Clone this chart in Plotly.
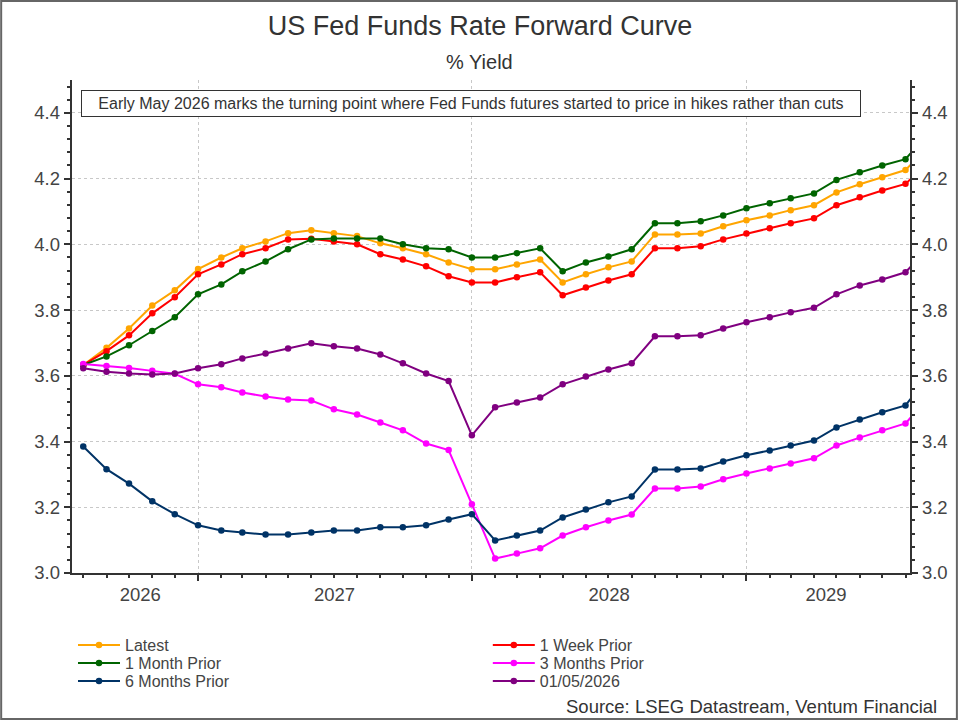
import pandas as pd
import plotly.graph_objects as go

# Monthly forward-curve points (first of each month)
MONTHS = [
    "2026-08", "2026-09", "2026-10", "2026-11", "2026-12",
    "2027-01", "2027-02", "2027-03", "2027-04", "2027-05", "2027-06",
    "2027-07", "2027-08", "2027-09", "2027-10", "2027-11", "2027-12",
    "2028-01", "2028-02", "2028-03", "2028-04", "2028-05", "2028-06",
    "2028-07", "2028-08", "2028-09", "2028-10", "2028-11", "2028-12",
    "2029-01", "2029-02", "2029-03", "2029-04", "2029-05", "2029-06",
    "2029-07", "2029-08", "2029-09",
]

LATEST = [
    3.633, 3.685, 3.744, 3.814, 3.860,
    3.925, 3.960, 3.988, 4.009, 4.034, 4.043, 4.034, 4.025, 4.003, 3.988, 3.970, 3.945,
    3.924, 3.924, 3.939, 3.954, 3.884, 3.909, 3.930, 3.948, 4.030, 4.030, 4.033, 4.055,
    4.073, 4.088, 4.104, 4.119, 4.158, 4.183, 4.204, 4.226, 4.300,
]
WEEK_PRIOR = [
    3.633, 3.675, 3.723, 3.790, 3.839,
    3.909, 3.939, 3.970, 3.988, 4.015, 4.017, 4.009, 4.000, 3.970, 3.954, 3.933, 3.903,
    3.884, 3.884, 3.900, 3.915, 3.845, 3.869, 3.890, 3.909, 3.988, 3.988, 3.994, 4.015,
    4.033, 4.049, 4.064, 4.079, 4.119, 4.143, 4.164, 4.184, 4.250,
]
MONTH_PRIOR = [
    3.633, 3.659, 3.693, 3.736, 3.778,
    3.848, 3.878, 3.918, 3.948, 3.985, 4.015, 4.018, 4.018, 4.018, 4.000, 3.988, 3.985,
    3.960, 3.960, 3.973, 3.988, 3.918, 3.945, 3.963, 3.985, 4.064, 4.064, 4.070, 4.088,
    4.110, 4.125, 4.140, 4.155, 4.196, 4.219, 4.240, 4.259, 4.340,
]
THREE_MONTHS_PRIOR = [
    3.636, 3.630, 3.624, 3.615, 3.606,
    3.574, 3.565, 3.549, 3.537, 3.528, 3.525, 3.498, 3.482, 3.458, 3.434, 3.394, 3.374,
    3.209, 3.044, 3.059, 3.075, 3.114, 3.139, 3.160, 3.178, 3.257, 3.257, 3.263, 3.285,
    3.303, 3.318, 3.333, 3.349, 3.388, 3.412, 3.434, 3.455, 3.535,
]
SIX_MONTHS_PRIOR = [
    3.385, 3.316, 3.272, 3.218, 3.179,
    3.145, 3.129, 3.123, 3.117, 3.117, 3.123, 3.129, 3.129, 3.139, 3.139, 3.145, 3.163,
    3.179, 3.099, 3.114, 3.129, 3.169, 3.193, 3.215, 3.233, 3.315, 3.315, 3.318, 3.339,
    3.358, 3.373, 3.388, 3.403, 3.443, 3.467, 3.489, 3.510, 3.600,
]
MAY_01_2026 = [
    3.623, 3.612, 3.607, 3.604, 3.607,
    3.623, 3.635, 3.653, 3.668, 3.683, 3.699, 3.690, 3.683, 3.665, 3.638, 3.607, 3.584,
    3.419, 3.504, 3.519, 3.534, 3.574, 3.598, 3.619, 3.638, 3.720, 3.720, 3.723, 3.744,
    3.763, 3.778, 3.793, 3.807, 3.848, 3.875, 3.893, 3.915, 3.990,
]

SERIES_NAMES = ["Latest", "1 Week Prior", "1 Month Prior",
                "3 Months Prior", "6 Months Prior", "01/05/2026"]
SERIES_VALUES = [LATEST, WEEK_PRIOR, MONTH_PRIOR,
                 THREE_MONTHS_PRIOR, SIX_MONTHS_PRIOR, MAY_01_2026]
COLORS = ["#FFA500", "#FF0000", "#006400", "#FF00FF", "#003366", "#800080"]
# legend row for each series (two per row)
LEGEND_ROW = ["legend", "legend", "legend2", "legend2", "legend3", "legend3"]

YEARS = ["2026", "2027", "2028", "2029"]

TITLE = "US Fed Funds Rate Forward Curve"
SUBTITLE = "% Yield"
NOTE = ("Early May 2026 marks the turning point where Fed Funds futures "
        "started to price in hikes rather than cuts")
SOURCE = "Source: LSEG Datastream, Ventum Financial"

FONT = "Arial, Liberation Sans, sans-serif"
X_RANGE = ["2026-07-17", "2029-08-07"]
Y_RANGE = [3.0, 4.5]

# plot area in px (for placing paper-referenced text)
W, H = 960, 720
ML, MR, MT, MB = 72, 48, 80, 147
PW, PH = W - ML - MR, H - MT - MB


def px_x(px):
    return (px - ML) / PW


def px_y(py):
    return (H - MB - py) / PH


# year labels centred on the visible span of each year
dates = pd.to_datetime(MONTHS)
last_vis = dates[dates <= pd.Timestamp(X_RANGE[1])].max()
year_pos = []
for y in YEARS:
    lo = max(pd.Timestamp(f"{y}-01-01"), dates[0])
    hi = min(pd.Timestamp(f"{int(y) + 1}-01-01"), last_vis)
    year_pos.append((lo + (hi - lo) / 2).strftime("%Y-%m-%d"))

fig = go.Figure()

for name, vals, color, lg in zip(SERIES_NAMES, SERIES_VALUES, COLORS, LEGEND_ROW):
    fig.add_trace(go.Scatter(
        x=dates, y=vals,
        mode="lines+markers",
        name=name, legend=lg,
        line=dict(color=color, width=2),
        marker=dict(color=color, size=6.5),
    ))

# invisible copy so the overlay axes (year labels, right scale) get drawn
fig.add_trace(go.Scatter(
    x=dates, y=LATEST, xaxis="x2", yaxis="y2",
    mode="lines", opacity=0, showlegend=False, hoverinfo="skip",
))

axis_col = "#333333"
grid = dict(showgrid=True, gridcolor="#c8c8c8", gridwidth=1, griddash="3px,3px")
yticks = dict(
    range=Y_RANGE, dtick=0.2, tick0=3.0, tickformat=".1f",
    ticks="outside", ticklen=6.5, tickwidth=1.5, tickcolor=axis_col,
    showline=True, linecolor=axis_col, linewidth=1.5, zeroline=False,
    tickfont=dict(size=18.5, color="#444"),
    minor=dict(dtick=0.04, tick0=3.0, ticks="outside", ticklen=3.5,
               tickwidth=1.5, tickcolor=axis_col, showgrid=False),
)

fig.update_layout(
    xaxis=dict(
        type="date", range=X_RANGE,
        dtick="M12", tick0="2027-01-01",
        ticks="outside", ticklen=6, tickwidth=1.5, tickcolor=axis_col,
        showticklabels=False,
        showline=True, linecolor=axis_col, linewidth=1.5,
        zeroline=False,
        minor=dict(dtick="M1", tick0="2026-08-01", ticks="outside",
                   ticklen=3.5, tickwidth=1.5, tickcolor=axis_col,
                   showgrid=False),
        **grid,
    ),
    xaxis2=dict(
        type="date", overlaying="x", anchor="y", side="bottom",
        range=X_RANGE,
        tickmode="array", tickvals=year_pos, ticktext=YEARS,
        ticks="", showgrid=False, showline=False, zeroline=False,
        ticklabelstandoff=8,
        tickfont=dict(size=18.5, color="#444"),
    ),
    yaxis=dict(**yticks, **grid),
    yaxis2=dict(overlaying="y", anchor="x", side="right",
                showgrid=False, **yticks),
)

legend_common = dict(
    orientation="h", x=px_x(73), xanchor="left", yanchor="top",
    entrywidth=0.495, entrywidthmode="fraction",
    itemwidth=42, traceorder="normal",
    font=dict(size=16, color="#444"),
    bgcolor="rgba(0,0,0,0)",
)

fig.update_layout(
    width=W, height=H,
    margin=dict(l=ML, r=MR, t=MT, b=MB),
    plot_bgcolor="white", paper_bgcolor="white",
    font=dict(family=FONT, color="#444"),
    title=dict(text=TITLE, x=0.5, xref="container", xanchor="center",
               y=1 - 26 / H, yref="container", yanchor="middle",
               font=dict(size=27, color="#333")),
    legend=dict(y=px_y(628), **legend_common),
    legend2=dict(y=px_y(646), **legend_common),
    legend3=dict(y=px_y(664), **legend_common),
    showlegend=True,
)

fig.add_annotation(
    text=SUBTITLE, xref="paper", yref="paper",
    x=px_x(480), y=px_y(61.5), xanchor="center", yanchor="middle",
    showarrow=False, font=dict(size=20, color="#333"),
)
fig.add_annotation(
    text=NOTE, xref="paper", yref="paper",
    x=px_x(472), y=px_y(103.5), xanchor="center", yanchor="middle",
    showarrow=False, font=dict(size=16, color="#333"),
    bgcolor="white", bordercolor="#333", borderwidth=1, borderpad=2,
    width=774, height=21,
)
fig.add_annotation(
    text=SOURCE, xref="paper", yref="paper",
    x=px_x(941), y=px_y(706.5), xanchor="right", yanchor="middle",
    showarrow=False, font=dict(size=18.5, color="#333"),
)

# frame round the whole picture
fig.add_shape(
    type="rect", xref="paper", yref="paper", layer="above",
    x0=px_x(1), x1=px_x(959), y0=px_y(719), y1=px_y(1),
    line=dict(color="#666", width=2),
)

fig.write_html("out.html", config={"displayModeBar": False},
               post_script="document.body.style.margin='0';")
